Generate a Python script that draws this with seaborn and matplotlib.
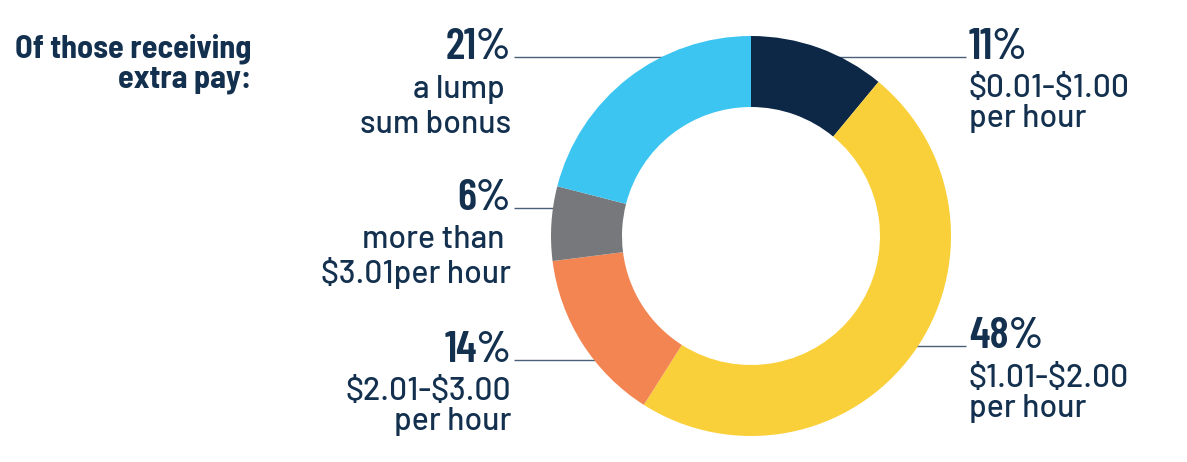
import numpy as np
import matplotlib
matplotlib.use("Agg")
import matplotlib.pyplot as plt
import seaborn as sns

# Share of workers receiving each kind of extra pay (clockwise from the top)
categories = ["$0.01-$1.00 per hour", "$1.01-$2.00 per hour", "$2.01-$3.00 per hour",
              "more than $3.01 per hour", "a lump sum bonus"]
shares = [11, 48, 14, 6, 21]
colors = ["#0c2846", "#fad03a", "#f38552", "#77787b", "#3cc5f1"]
pct_labels = ["11%", "48%", "14%", "6%", "21%"]
desc_labels = [["$0.01-$1.00", "per hour"], ["$1.01-$2.00", "per hour"],
               ["$2.01-$3.00", "per hour"], ["more than ", "$3.01per hour"],
               ["a lump ", "sum bonus"]]
title_lines = ["Of those receiving", "extra pay:"]

sns.set_theme(style="white")
plt.rcParams["font.family"] = ["Barlow", "Roboto", "DejaVu Sans"]

W, H = 1187, 462
fig = plt.figure(figsize=(W / 100, H / 100), dpi=100)
ax = fig.add_axes([0, 0, 1, 1])

cx, cy, R, ring = 751, H - 236, 200, 71
ax.pie(shares, colors=colors, startangle=90, counterclock=False,
       center=(cx, cy), radius=R,
       wedgeprops=dict(width=ring, linewidth=0, antialiased=True))
ax.set_xlim(0, W)
ax.set_ylim(0, H)
ax.set_aspect("equal")
ax.axis("off")

navy = "#13304f"
cond = ["Barlow Condensed", "Roboto Condensed", "Oswald", "Asap Condensed", "DejaVu Sans"]
pct_font = dict(family=cond, weight=600, fontsize=32, color=navy, parse_math=False)
desc_font = dict(family=["Barlow", "Roboto", "DejaVu Sans"], weight=500, fontsize=23,
                 color=navy, parse_math=False)

# label layout: (side, text x, percentage baseline, description baselines, leader y)
layout = [
    ("right", 969, 59, (97, 127), 57),
    ("right", 969, 348, (387, 417), 346),
    ("left", 511, 362, (400, 430), 360),
    ("left", 511, 210, (248, 283), 208),
    ("left", 511, 59, (98, 133), 57),
]

for (side, tx, base, dbases, ly), pct, desc in zip(layout, pct_labels, desc_labels):
    ha = "left" if side == "right" else "right"
    ax.text(tx, H - base, pct, ha=ha, va="baseline", **pct_font)
    for line, b in zip(desc, dbases):
        ax.text(tx, H - b, line, ha=ha, va="baseline", **desc_font)
    dy = (H - ly) - cy
    dx = np.sqrt(max(R ** 2 - dy ** 2, 0))
    if side == "right":
        x0, x1 = cx + dx - 2, tx - 3
    else:
        x0, x1 = tx + 3, cx - dx + 2
    ax.plot([x0, x1], [H - ly, H - ly], color="#4a5f78", lw=1.0,
            solid_capstyle="butt", zorder=0)

title_font = dict(family=["Barlow Semi Condensed", "Barlow Condensed", "Roboto Condensed",
                          "DejaVu Sans"], weight="bold", fontsize=23.2, color=navy,
                  parse_math=False)
for line, b in zip(title_lines, (58, 88)):
    ax.text(251, H - b, line, ha="right", va="baseline", **title_font)

fig.savefig("out.png", dpi=100, facecolor="white")
